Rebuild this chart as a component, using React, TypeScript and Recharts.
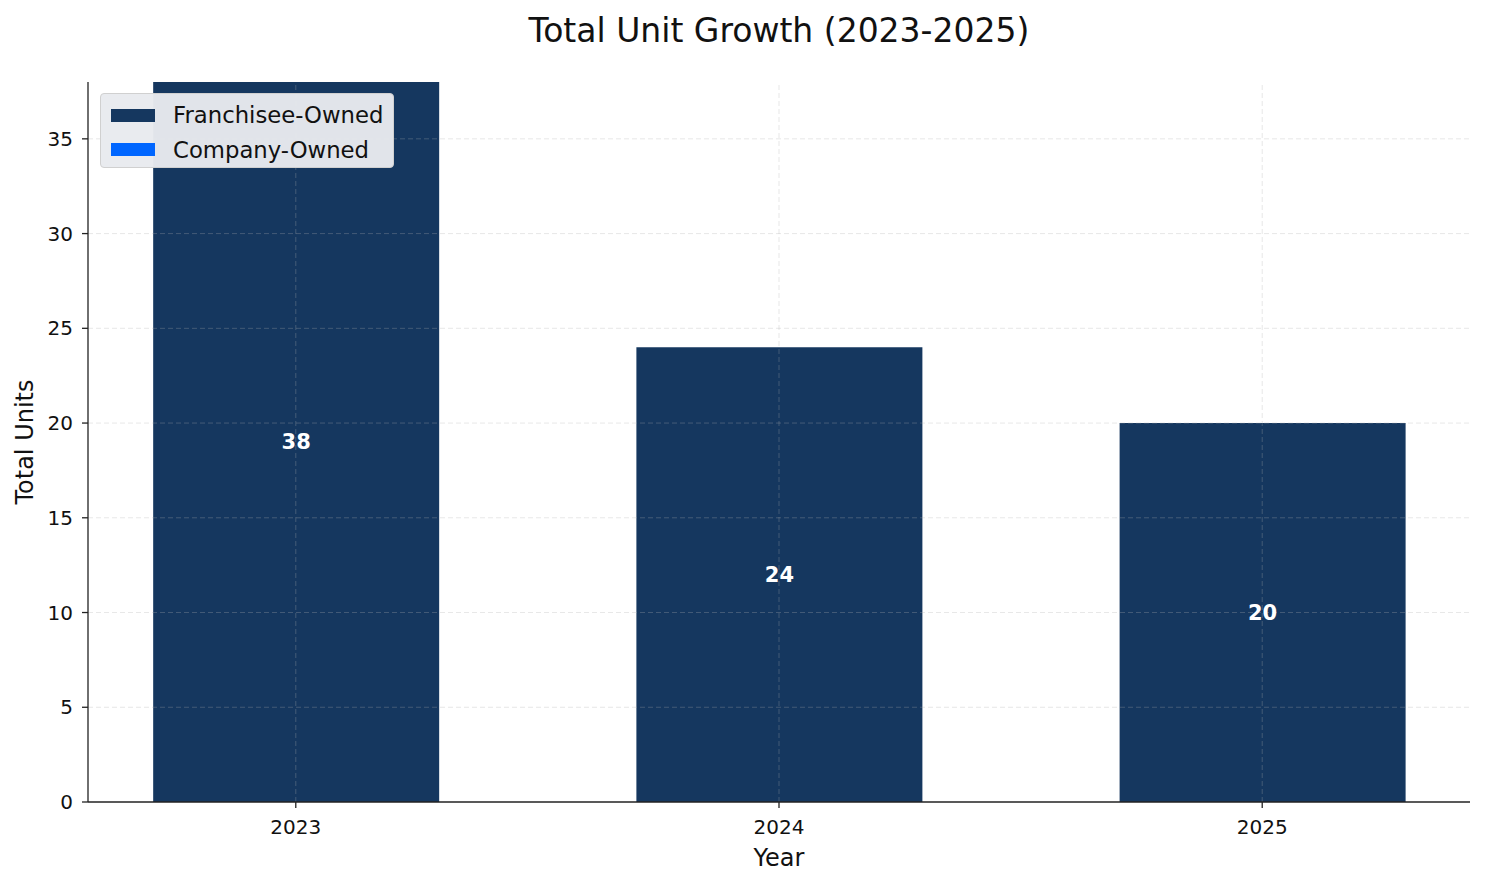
import {
  BarChart,
  Bar,
  XAxis,
  YAxis,
  ReferenceLine,
  LabelList,
} from "recharts";

const years = [2023, 2024, 2025];
const franchiseeOwned = [38, 24, 20];
const companyOwned = [0, 0, 0];
const yTicks = [0, 5, 10, 15, 20, 25, 30, 35];

const data = years.map((year, i) => ({
  year,
  franchisee: franchiseeOwned[i],
  company: companyOwned[i],
}));

const FONT = "'DejaVu Sans', sans-serif";
const FRANCHISEE = "#15375f";
const COMPANY = "#0066ff";

function LegendBox() {
  const items = [
    { name: "Franchisee-Owned", color: FRANCHISEE },
    { name: "Company-Owned", color: COMPANY },
  ];
  return (
    <div
      style={{
        position: "absolute",
        left: 92,
        top: 85,
        width: 294,
        height: 75,
        boxSizing: "border-box",
        background: "rgba(232,234,238,0.97)",
        border: "1px solid #d0d0d0",
        borderRadius: 4,
        padding: "4px 0 0 10px",
        fontFamily: FONT,
        fontSize: 22.75,
        color: "#111",
        zIndex: 2,
      }}
    >
      {items.map((it) => (
        <div
          key={it.name}
          style={{ display: "flex", alignItems: "center", height: 34.5 }}
        >
          <span
            style={{
              display: "inline-block",
              width: 44,
              height: 13,
              background: it.color,
              marginRight: 18,
            }}
          />
          {it.name}
        </div>
      ))}
    </div>
  );
}

const gridProps = {
  stroke: "#b0b0b0",
  strokeOpacity: 0.3,
  strokeDasharray: "5 3",
  strokeWidth: 1,
};

export default function App() {
  return (
    <div style={{ position: "relative", width: 1469, height: 868 }}>
      <div
        style={{
          position: "absolute",
          left: 80,
          width: 1382,
          top: 5,
          lineHeight: "36px",
          textAlign: "center",
          fontFamily: FONT,
          fontSize: 33,
          color: "#111",
        }}
      >
        Total Unit Growth (2023-2025)
      </div>
      <LegendBox />
      <BarChart
        width={1469}
        height={868}
        data={data}
        margin={{ top: 74, right: 7, bottom: 10, left: 30 }}
        barGap={0}
      >
        <XAxis
          dataKey="year"
          type="number"
          domain={[2022.57, 2025.43]}
          ticks={years}
          allowDataOverflow
          height={64}
          tick={{ fontFamily: FONT, fontSize: 20, fill: "#111" }}
          tickLine={{ stroke: "#222", strokeWidth: 1.3 }}
          axisLine={{ stroke: "#222", strokeWidth: 1.3 }}
          tickSize={6}
          tickMargin={12}
          label={{
            value: "Year",
            position: "insideBottom",
            offset: 0,
            style: { fontFamily: FONT, fontSize: 24, fill: "#111" },
          }}
        />
        <YAxis
          domain={[0, 38]}
          ticks={yTicks}
          allowDataOverflow
          width={50}
          tick={{ fontFamily: FONT, fontSize: 20, fill: "#111" }}
          tickLine={{ stroke: "#222", strokeWidth: 1.3 }}
          axisLine={{ stroke: "#222", strokeWidth: 1.3 }}
          tickSize={6}
          tickMargin={9}
          label={{
            value: "Total Units",
            angle: -90,
            position: "insideLeft",
            offset: -14,
            style: {
              fontFamily: FONT,
              fontSize: 24,
              fill: "#111",
              textAnchor: "middle",
            },
          }}
        />
        <Bar
          dataKey="franchisee"
          name="Franchisee-Owned"
          stackId="a"
          fill={FRANCHISEE}
          barSize={286}
          isAnimationActive={false}
        >
          <LabelList
            dataKey="franchisee"
            position="center"
            style={{
              fontFamily: FONT,
              fontSize: 21,
              fontWeight: "bold",
              fill: "#ffffff",
            }}
          />
        </Bar>
        <Bar
          dataKey="company"
          name="Company-Owned"
          stackId="a"
          fill={COMPANY}
          barSize={286}
          isAnimationActive={false}
        />
        {yTicks
          .filter((t) => t > 0)
          .map((t) => (
            <ReferenceLine key={`y${t}`} y={t} {...gridProps} />
          ))}
        {years.map((y) => (
          <ReferenceLine key={`x${y}`} x={y} {...gridProps} />
        ))}
      </BarChart>
    </div>
  );
}
